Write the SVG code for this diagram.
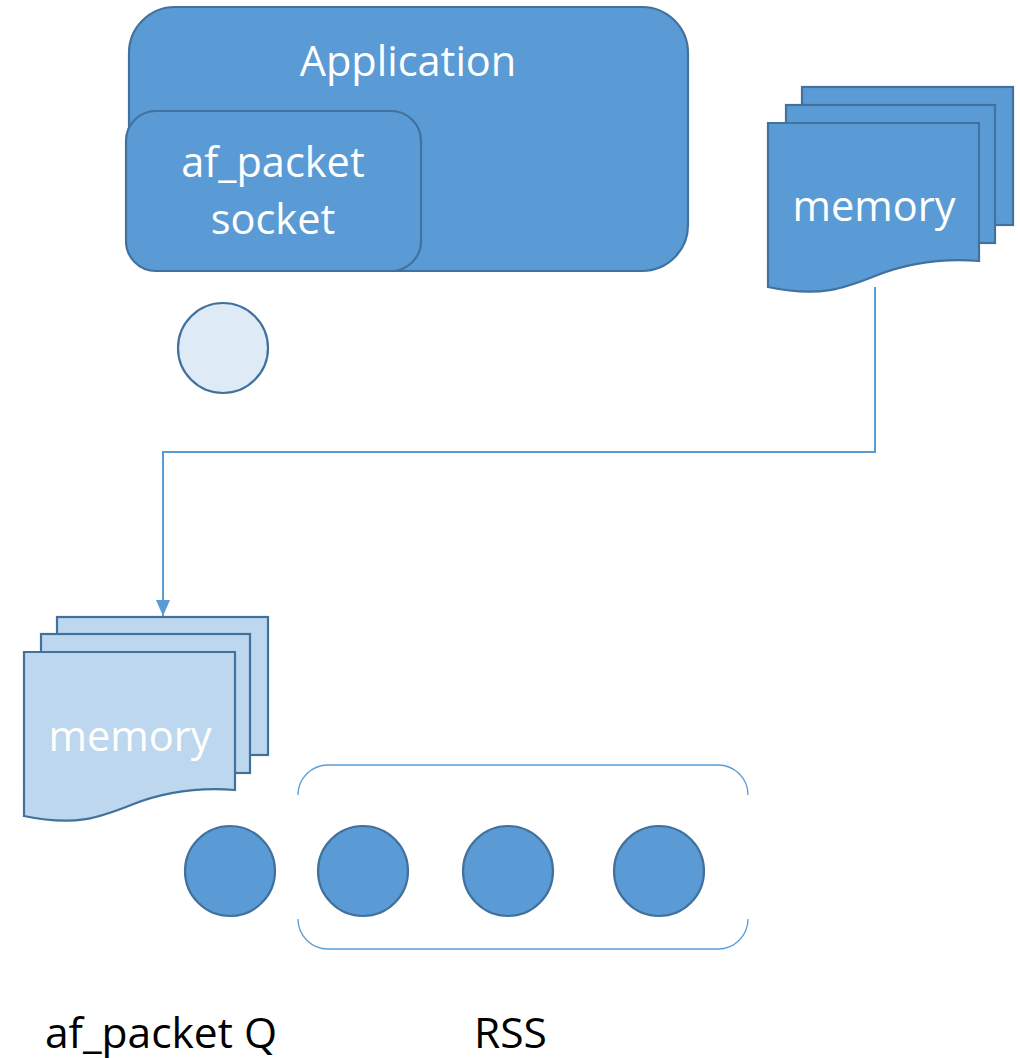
<svg xmlns="http://www.w3.org/2000/svg" width="1020" height="1058" viewBox="0 0 1020 1058">
<style>
.shape{fill:#5B9BD5;stroke:#41719C;stroke-width:2.2}
.light{fill:#BDD7EE;stroke:#41719C;stroke-width:2.2}
.pale{fill:#DEEBF7;stroke:#41719C;stroke-width:2.2}
.wt{font-family:"Open Sans","Liberation Sans",sans-serif;font-size:41.5px;fill:#FFFFFF;text-anchor:middle}
.bt{font-family:"Open Sans","Liberation Sans",sans-serif;font-size:42.5px;fill:#000000}
.conn{fill:none;stroke:#5B9BD5;stroke-width:2}
.bracket{fill:none;stroke:#5B9BD5;stroke-width:1.3}
</style>
<defs>
<marker id="arrow" markerWidth="16" markerHeight="14" refX="16" refY="7" orient="auto" markerUnits="userSpaceOnUse">
<path d="M0,0 L16,7 L0,14 Z" fill="#5B9BD5"/>
</marker>
</defs>
<rect width="1020" height="1058" fill="#FFFFFF"/>

<g id="application">
<rect class="shape" x="129" y="7" width="559" height="264" rx="46" ry="46"/>
<text class="wt" x="408" y="76">Application</text>
</g>

<g id="socket">
<rect class="shape" x="126" y="111" width="295" height="160" rx="30" ry="30"/>
<text class="wt" x="273" y="177">af_packet</text>
<text class="wt" x="273" y="234">socket</text>
</g>

<g id="socket-circle">
<circle class="pale" cx="223" cy="348" r="45"/>
</g>

<g id="memory-top">
<rect class="shape" x="802" y="87" width="211" height="138"/>
<rect class="shape" x="786" y="105" width="209" height="138"/>
<path class="shape" d="M768,123 H979 V261 C940,258 905,264 875,276 C845,288 820,298 768,287 Z"/>
<text class="wt" x="874" y="221">memory</text>
</g>

<g id="memory-bottom">
<rect class="light" x="57" y="617" width="211" height="138"/>
<rect class="light" x="41" y="634" width="209" height="139"/>
<path class="light" d="M24,652 H235 V790 C196,787 161,793 131,805 C101,817 76,827 24,816 Z"/>
<text class="wt" x="130" y="751">memory</text>
</g>

<g id="afpacket-q">
<circle class="shape" cx="230" cy="871" r="45"/>
</g>

<g id="rss">
<path class="bracket" d="M298,795 A30,30 0 0 1 328,765 H718 A30,30 0 0 1 748,795"/>
<path class="bracket" d="M298,919 A30,30 0 0 0 328,949 H718 A30,30 0 0 0 748,919"/>
<circle class="shape" cx="363" cy="871" r="45"/>
<circle class="shape" cx="508" cy="871" r="45"/>
<circle class="shape" cx="659" cy="871" r="45"/>
</g>

<g id="labels">
<text class="bt" x="45" y="1048">af_packet Q</text>
<text class="bt" x="474" y="1048">RSS</text>
</g>

<g id="connectors">
<path class="conn" d="M875,287 V452 H163 V616" marker-end="url(#arrow)"/>
</g>
</svg>
